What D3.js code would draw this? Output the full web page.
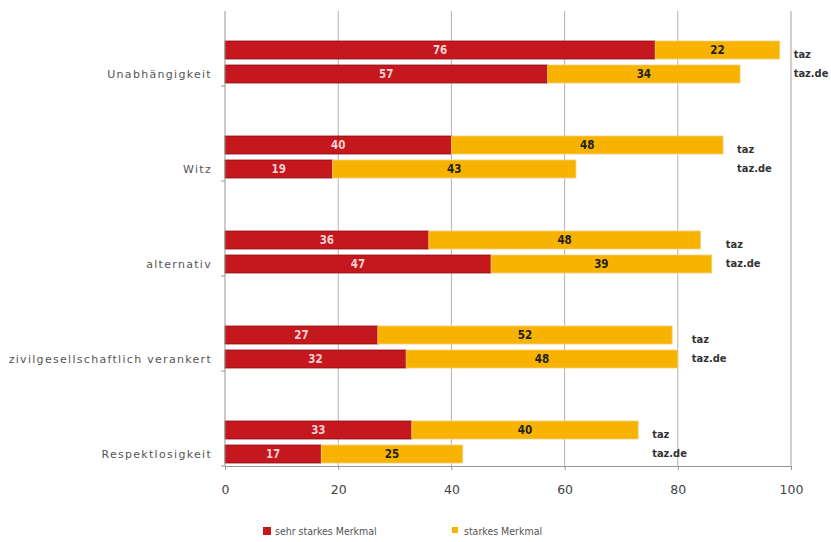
<!DOCTYPE html>
<html>
<head>
<meta charset="utf-8">
<script src="https://cdn.jsdelivr.net/npm/d3@7"></script>
<style>
  body { margin: 0; background: #fff; }
  text { font-family: "DejaVu Sans Condensed", "DejaVu Sans", sans-serif; }
</style>
</head>
<body>
<script>
// data
var categories = ["Unabhängigkeit", "Witz", "alternativ", "zivilgesellschaftlich verankert", "Respektlosigkeit"];
var outlets = ["taz", "taz.de"];
var sehrStark = { "taz": [76, 40, 36, 27, 33], "taz.de": [57, 19, 47, 32, 17] };
var stark = { "taz": [22, 48, 48, 52, 40], "taz.de": [34, 43, 39, 48, 25] };
var seriesNames = ["sehr starkes Merkmal", "starkes Merkmal"];
var xTicks = [0, 20, 40, 60, 80, 100];

var width = 831, height = 542;
var colors = ["#c5171e", "#f7b300"];
var strokes = ["#8f1014", "#f3cf7a"];

var svg = d3.select("body").append("svg")
    .attr("width", width)
    .attr("height", height);

var x = d3.scaleLinear().domain([0, 100]).range([225, 791]);
var y = d3.scaleBand().domain(categories).range([-9, 466]);
var inner = d3.scaleBand().domain(outlets).range([50, 92]).paddingInner(0.25);

// gridlines
svg.append("g")
    .selectAll("line")
    .data(xTicks.slice(1))
    .enter().append("line")
    .attr("x1", function(d){ return x(d); })
    .attr("x2", function(d){ return x(d); })
    .attr("y1", 11)
    .attr("y2", 466)
    .attr("stroke", function(d){ return d == 100 ? "#a89e98" : "#bab1ac"; })
    .attr("stroke-width", 1);

// rows
var rows = [];
categories.forEach(function(c, i){
    outlets.forEach(function(o){
        rows.push({cat: c, outlet: o, a: sehrStark[o][i], b: stark[o][i]});
    });
});

var g = svg.append("g");
rows.forEach(function(r){
    var yy = y(r.cat) + inner(r.outlet);
    var h = inner.bandwidth();
    g.append("rect")
        .attr("x", x(0)).attr("y", yy)
        .attr("width", x(r.a) - x(0)).attr("height", h)
        .attr("fill", colors[0]).attr("stroke", strokes[0]).attr("stroke-width", 0.8);
    g.append("rect")
        .attr("x", x(r.a)).attr("y", yy)
        .attr("width", x(r.a + r.b) - x(r.a)).attr("height", h)
        .attr("fill", colors[1]).attr("stroke", strokes[1]).attr("stroke-width", 0.8);
    g.append("text")
        .attr("x", (x(0) + x(r.a)) / 2).attr("y", yy + h / 2)
        .attr("dy", "0.35em").attr("text-anchor", "middle")
        .attr("fill", "#f3d2d2").attr("font-size", 11.5).attr("font-weight", "bold")
        .text(r.a);
    g.append("text")
        .attr("x", (x(r.a) + x(r.a + r.b)) / 2).attr("y", yy + h / 2)
        .attr("dy", "0.35em").attr("text-anchor", "middle")
        .attr("fill", "#222").attr("font-size", 11.5).attr("font-weight", "bold")
        .text(r.b);
});

// outlet labels to the right of each group
categories.forEach(function(c, i){
    var maxEnd = d3.max(outlets, function(o){ return sehrStark[o][i] + stark[o][i]; });
    outlets.forEach(function(o, j){
        svg.append("text")
            .attr("x", x(maxEnd) + 14)
            .attr("y", y(c) + inner(o) + inner.bandwidth() / 2 + (j == 0 ? 4 : -1))
            .attr("dy", "0.35em")
            .attr("fill", "#333").attr("font-size", 11).attr("font-weight", "bold")
            .text(o);
    });
});

// x axis
var xAxis = d3.axisBottom(x).tickValues(xTicks).tickSize(4).tickPadding(15);
var ax = svg.append("g").attr("transform", "translate(0,466)").call(xAxis);
ax.select(".domain").attr("stroke", "#9d948f");
ax.selectAll(".tick line").attr("stroke", "#9d948f");
ax.selectAll(".tick text").attr("fill", "#444").attr("font-size", 12.5)
    .style("font-family", "'DejaVu Sans', sans-serif");

// y axis
var yAxis = d3.axisLeft(y).tickSize(0).tickPadding(13);
var ay = svg.append("g").attr("transform", "translate(225,0)").call(yAxis);
ay.select(".domain").remove();
ay.selectAll(".tick text")
    .attr("transform", "translate(0," + (inner("taz.de") + inner.bandwidth() / 2 - y.bandwidth() / 2) + ")")
    .attr("fill", "#555").attr("font-size", 11)
    .style("letter-spacing", "1.3px")
    .style("font-family", "'DejaVu Sans', sans-serif");
svg.append("line")
    .attr("x1", x(0)).attr("x2", x(0)).attr("y1", 11).attr("y2", 466)
    .attr("stroke", "#9d948f");
svg.append("g").selectAll("line")
    .data(categories)
    .enter().append("line")
    .attr("x1", x(0) - 4).attr("x2", x(0))
    .attr("y1", function(d){ return y(d) + y.step(); })
    .attr("y2", function(d){ return y(d) + y.step(); })
    .attr("stroke", "#9d948f");

// legend
var legend = svg.append("g").attr("transform", "translate(263,531)");
var legX = [0, 189];
seriesNames.forEach(function(s, i){
    legend.append("rect")
        .attr("x", legX[i]).attr("y", -4)
        .attr("width", i == 0 ? 8 : 6).attr("height", i == 0 ? 8 : 6)
        .attr("fill", colors[i]);
    legend.append("text")
        .attr("x", legX[i] + 12).attr("y", 0).attr("dy", "0.35em")
        .attr("fill", "#555").attr("font-size", 10.5)
        .text(s);
});
</script>
</body>
</html>
